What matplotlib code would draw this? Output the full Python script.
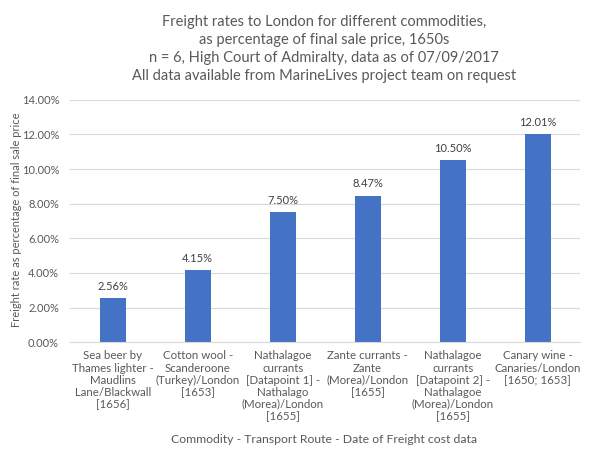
import matplotlib
matplotlib.use("Agg")
import matplotlib.pyplot as plt
from matplotlib.ticker import FuncFormatter

# data
categories = [
    "Sea beer by\nThames lighter -\nMaudlins\nLane/Blackwall\n[1656]",
    "Cotton wool -\nScanderoone\n(Turkey)/London\n[1653]",
    "Nathalagoe\ncurrants\n[Datapoint 1] -\nNathalago\n(Morea)/London\n[1655]",
    "Zante currants -\nZante\n(Morea)/London\n[1655]",
    "Nathalagoe\ncurrants\n[Datapoint 2] -\nNathalagoe\n(Morea)/London\n[1655]",
    "Canary wine -\nCanaries/London\n[1650; 1653]",
]
rates = [2.56, 4.15, 7.50, 8.47, 10.50, 12.01]
yticks = [0, 2, 4, 6, 8, 10, 12, 14]

title = ("Freight rates to London for different commodities,\n"
         "as percentage of final sale price, 1650s\n"
         "n = 6, High Court of Admiralty, data as of 07/09/2017\n"
         "All data available from MarineLives project team on request")

plt.rcParams['font.family'] = ['Lato', 'DejaVu Sans']
grey = '#595959'

fig = plt.figure(figsize=(6, 4.58), dpi=100)
ax = fig.add_axes([0.117, 0.253, 0.85, 0.529])

x = range(len(rates))
bars = ax.bar(x, rates, width=0.31, color='#4472C4', zorder=2)
for b, v in zip(bars, rates):
    ax.text(b.get_x() + b.get_width() / 2, v + 0.35, f"{v:.2f}%",
            ha='center', va='bottom', fontsize=8, color='#404040')

ax.set_ylim(0, 14)
ax.set_xlim(-0.5, len(rates) - 0.5)
ax.set_yticks(yticks)
ax.yaxis.set_major_formatter(FuncFormatter(lambda v, p: f"{v:.2f}%"))
ax.set_xticks(list(x))
ax.set_xticklabels(categories, fontsize=8.3, color=grey, linespacing=1.12)
ax.tick_params(axis='y', labelsize=8, colors=grey, length=0, pad=8)
ax.tick_params(axis='x', length=0, pad=6)
ax.grid(axis='y', color='#D9D9D9', linewidth=0.8, zorder=0)

for s in ['top', 'right', 'left']:
    ax.spines[s].set_visible(False)
ax.spines['bottom'].set_color('#D9D9D9')

fig.text(0.028, 0.52, 'Freight rate as percentage of final sale price',
         rotation=90, ha='center', va='center', fontsize=8, color=grey)
fig.text(0.54, 0.04, 'Commodity - Transport Route - Date of Freight cost data',
         ha='center', va='center', fontsize=8.8, color=grey)
fig.text(0.54, 0.893, title, ha='center', va='center', fontsize=10.5,
         color=grey, linespacing=1.38)

fig.savefig('out.png', dpi=100)
